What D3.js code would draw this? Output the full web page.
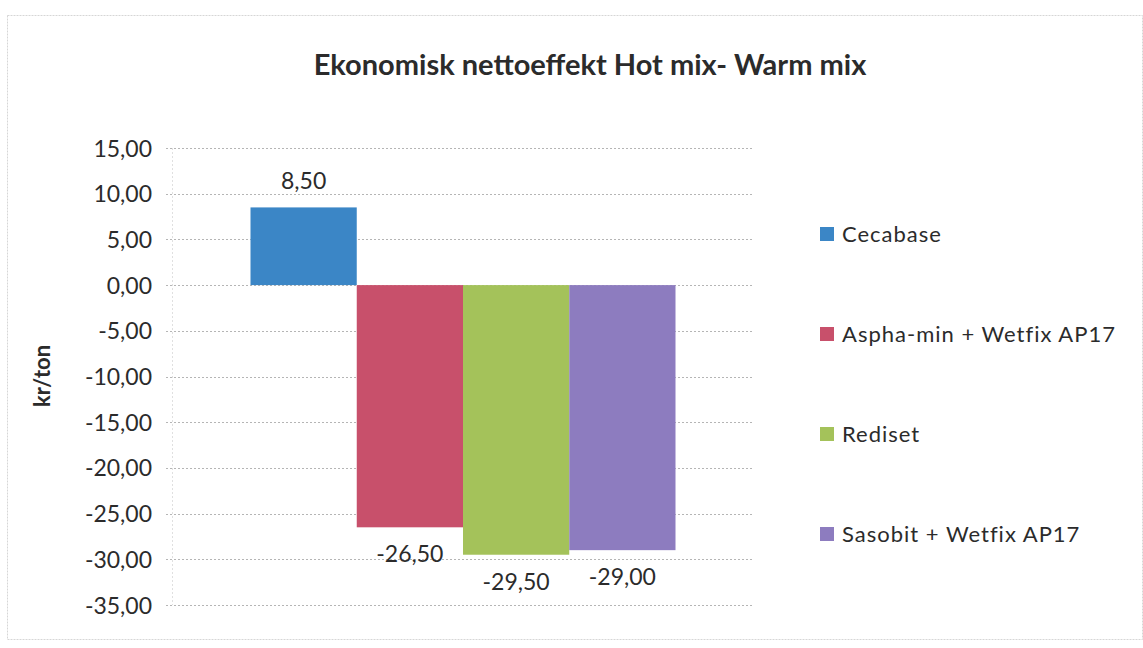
<!DOCTYPE html>
<html>
<head>
<meta charset="utf-8">
<script src="https://cdn.jsdelivr.net/npm/d3@7"></script>
<style>
  html, body { margin: 0; padding: 0; background: #ffffff; }
  svg { display: block; font-family: Lato, "Open Sans", sans-serif; }
</style>
</head>
<body>
<svg id="chart" width="1143" height="648"></svg>
<script>
// Series (one bar each) and their net effect in kr/ton
const seriesNames = ["Cecabase", "Aspha-min + Wetfix AP17", "Rediset", "Sasobit + Wetfix AP17"];
const seriesValues = [8.5, -26.5, -29.5, -29.0];
const seriesColors = ["#3b86c6", "#c8506b", "#a4c25a", "#8d7cbf"];
const yTicks = [15, 10, 5, 0, -5, -10, -15, -20, -25, -30, -35];

const titleText = "Ekonomisk nettoeffekt Hot mix- Warm mix";
const yAxisTitle = "kr/ton";

const nb = d3.formatLocale({ decimal: ",", thousands: " ", grouping: [3], currency: ["", " kr"], minus: "-" });
const fmt = nb.format(".2f");

const svg = d3.select("#chart");
const W = 1143, H = 648;
const plot = { left: 174, right: 752, top: 148, bottom: 605 };
const ink = "#2b2b2b";

// Outer chart frame
svg.append("rect")
  .attr("x", 7.5).attr("y", 15.5).attr("width", W - 8).attr("height", 624)
  .attr("fill", "#ffffff").attr("stroke", "#d6d6d6").attr("stroke-dasharray", "2,1");

const y = d3.scaleLinear().domain([-35, 15]).range([plot.bottom, plot.top]);
const group = d3.scaleBand().domain(["g"]).range([plot.left, plot.right]).paddingInner(0).paddingOuter(0.18);
const x = d3.scaleBand().domain(seriesNames).range([group("g"), group("g") + group.bandwidth()]).padding(0);

// Gridlines
const grid = svg.append("g").attr("class", "grid");
grid.selectAll("line").data(yTicks).join("line")
  .attr("x1", plot.left - 8).attr("x2", plot.right)
  .attr("y1", d => Math.round(y(d)) + 0.5).attr("y2", d => Math.round(y(d)) + 0.5)
  .attr("stroke", "#b5b5b5").attr("stroke-width", 1).attr("stroke-dasharray", "2,2");

// Faint vertical axis line
svg.append("line")
  .attr("x1", plot.left - 1.5).attr("x2", plot.left - 1.5)
  .attr("y1", plot.top).attr("y2", plot.bottom)
  .attr("stroke", "#e0e0e0").attr("stroke-dasharray", "2,2");

// Y axis tick labels
const yAxis = d3.axisLeft(y).tickValues(yTicks).tickFormat(fmt).tickSize(0).tickPadding(0);
const ya = svg.append("g").attr("transform", `translate(${plot.left - 22},0)`).call(yAxis);
ya.select(".domain").remove();
ya.selectAll("text")
  .attr("font-family", "Lato, 'Open Sans', sans-serif")
  .attr("font-size", 23).attr("fill", ink).attr("dy", "0.35em");

// Bars
svg.append("g").selectAll("rect").data(seriesNames).join("rect")
  .attr("x", d => x(d))
  .attr("width", x.bandwidth())
  .attr("y", (d, i) => y(Math.max(0, seriesValues[i])))
  .attr("height", (d, i) => Math.abs(y(seriesValues[i]) - y(0)))
  .attr("fill", (d, i) => seriesColors[i]);

// Value labels
svg.append("g").selectAll("text").data(seriesNames).join("text")
  .attr("x", d => x(d) + x.bandwidth() / 2)
  .attr("y", (d, i) => seriesValues[i] >= 0 ? y(seriesValues[i]) - 18 : y(seriesValues[i]) + 35)
  .attr("text-anchor", "middle")
  .attr("font-size", 23).attr("fill", ink)
  .text((d, i) => fmt(seriesValues[i]));

// Title
svg.append("text")
  .attr("x", 590).attr("y", 75)
  .attr("text-anchor", "middle")
  .attr("font-size", 29).attr("font-weight", "bold").attr("fill", ink)
  .text(titleText);

// Y axis title
svg.append("text")
  .attr("transform", "translate(50,376) rotate(-90)")
  .attr("text-anchor", "middle")
  .attr("font-size", 22).attr("font-weight", "bold").attr("fill", ink)
  .text(yAxisTitle);

// Legend
const legend = svg.append("g").attr("transform", "translate(820,0)");
const legendY = d3.scalePoint().domain(seriesNames).range([234, 534]);
const li = legend.selectAll("g").data(seriesNames).join("g")
  .attr("transform", d => `translate(0,${legendY(d)})`);
li.append("rect").attr("x", 0).attr("y", -7).attr("width", 14).attr("height", 14)
  .attr("fill", (d, i) => seriesColors[i]);
li.append("text").attr("x", 22).attr("y", 0).attr("dy", "0.35em")
  .attr("font-size", 22).attr("fill", ink).attr("letter-spacing", "1")
  .text(d => d);
</script>
</body>
</html>
